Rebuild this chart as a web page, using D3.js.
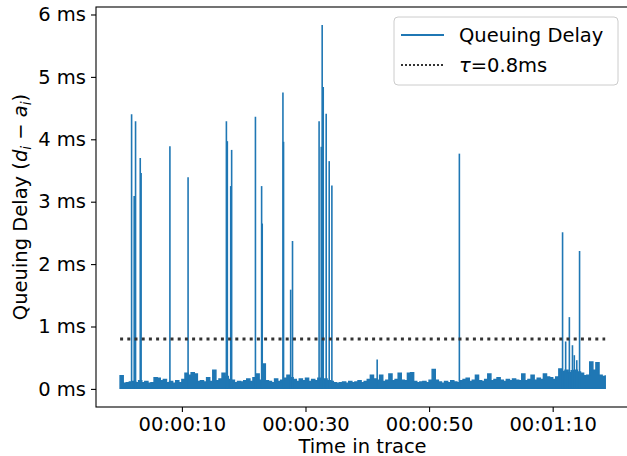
<!DOCTYPE html>
<html>
<head>
<meta charset="utf-8">
<script src="https://cdn.jsdelivr.net/npm/d3@7"></script>
<style>
  body { margin: 0; background: #fff; }
  svg { display: block; font-family: "DejaVu Sans", sans-serif; }
</style>
</head>
<body>
<svg id="chart"></svg>
<script>
const width = 627;
const height = 456;

// noise band: peak queuing delay (ms) per 0.5 s window, starting at t = 0 s
const sampleStep = 0.5;
const bandFloor = 0.01;
const bandTop = [
  0.21, 0.09, 0.10, 0.11, 0.12, 0.10, 0.13, 0.10, 0.12, 0.09,
  0.10, 0.18, 0.17, 0.13, 0.15, 0.10, 0.12, 0.09, 0.13, 0.10,
  0.15, 0.25, 0.22, 0.26, 0.24, 0.12, 0.13, 0.11, 0.18, 0.12,
  0.30, 0.13, 0.16, 0.25, 0.20, 0.15, 0.14, 0.10, 0.12, 0.11,
  0.13, 0.16, 0.12, 0.18, 0.24, 0.14, 0.40, 0.13, 0.12, 0.10,
  0.16, 0.12, 0.14, 0.17, 0.22, 0.18, 0.15, 0.12, 0.16, 0.13,
  0.17, 0.12, 0.15, 0.13, 0.17, 0.14, 0.16, 0.13, 0.12, 0.10,
  0.09, 0.10, 0.11, 0.09, 0.12, 0.10, 0.11, 0.13, 0.10, 0.12,
  0.15, 0.22, 0.16, 0.14, 0.22, 0.12, 0.14, 0.24, 0.13, 0.15,
  0.25, 0.14, 0.13, 0.25, 0.26, 0.12, 0.10, 0.11, 0.12, 0.10,
  0.14, 0.31, 0.14, 0.11, 0.09, 0.12, 0.10, 0.13, 0.11, 0.10,
  0.13, 0.15, 0.17, 0.12, 0.14, 0.22, 0.13, 0.12, 0.15, 0.24,
  0.13, 0.15, 0.18, 0.14, 0.12, 0.15, 0.13, 0.16, 0.14, 0.13,
  0.24, 0.13, 0.15, 0.22, 0.14, 0.17, 0.15, 0.24, 0.19, 0.18,
  0.15, 0.19, 0.32, 0.28, 0.30, 0.26, 0.29, 0.30, 0.27, 0.25,
  0.21, 0.22, 0.43, 0.30, 0.42, 0.22, 0.20, 0.22
];

// isolated delay spikes
const spikeTimes = [1.86, 2.28, 2.50, 3.26, 3.40, 8.06, 11.0, 17.2, 17.35, 17.9,
                    18.05, 21.9, 22.9, 23.0, 26.35, 26.45, 27.6, 27.9, 32.2, 32.55,
                    32.7, 32.87, 33.35, 33.84, 34.27, 41.6, 54.9, 71.6, 72.1, 72.7,
                    73.2, 73.5, 73.9, 74.35];
const spikeValues = [4.40, 3.09, 4.29, 3.70, 3.46, 3.89, 3.39, 4.29, 3.97, 3.25,
                     3.83, 4.36, 3.25, 2.65, 4.75, 3.96, 1.59, 2.37, 4.29, 3.88,
                     5.83, 4.84, 4.41, 3.65, 3.26, 0.47, 3.77, 2.51, 0.76, 1.15,
                     0.70, 0.54, 0.46, 2.21];

const tau = 0.8;
const traceEnd = 78.5;
const timeTicks = [10, 30, 50, 70];
const timeTickLabels = ["00:00:10", "00:00:30", "00:00:50", "00:01:10"];
const delayTicks = [0, 1, 2, 3, 4, 5, 6];

const blue = "#1f77b4";
const margin = {top: 7, right: -2, bottom: 49, left: 96};
const plotW = width - margin.left - margin.right;
const plotH = height - margin.top - margin.bottom;

const svg = d3.select("#chart")
              .attr("width", width)
              .attr("height", height);

const g = svg.append("g")
             .attr("transform", "translate(" + margin.left + "," + margin.top + ")");

const x = d3.scaleLinear().domain([-3.9, 82.35]).range([0, plotW]);
const y = d3.scaleLinear().domain([-0.29, 6.12]).range([plotH, 0]);

g.append("clipPath").attr("id", "clip")
 .append("rect").attr("width", plotW).attr("height", plotH);

const plot = g.append("g").attr("clip-path", "url(#clip)");

const bandData = bandTop.map((v, i) => ({t: i * sampleStep, v: v}));

const area = d3.area()
               .curve(d3.curveStepAfter)
               .x(d => x(d.t))
               .y0(y(bandFloor))
               .y1(d => y(d.v));

plot.append("path")
    .datum(bandData)
    .attr("d", area)
    .attr("fill", blue)
    .attr("stroke", blue)
    .attr("stroke-width", 1.5);

const line = d3.line().x(d => x(d[0])).y(d => y(d[1]));

plot.selectAll(".spike")
    .data(spikeTimes)
    .enter()
    .append("path")
    .attr("class", "spike")
    .attr("d", (t, i) => line([[t, bandFloor], [t, spikeValues[i]]]))
    .attr("stroke", blue)
    .attr("stroke-width", 1.6)
    .attr("fill", "none");

// threshold
plot.append("path")
    .attr("d", line([[0, tau], [traceEnd, tau]]))
    .attr("stroke", "#333")
    .attr("stroke-width", 3)
    .attr("stroke-dasharray", "3,4.2")
    .attr("fill", "none");

// axes
const xAxis = g.append("g")
               .attr("transform", "translate(0," + plotH + ")")
               .call(d3.axisBottom(x)
                       .tickValues(timeTicks)
                       .tickFormat((d, i) => timeTickLabels[i])
                       .tickSize(5)
                       .tickPadding(4)
                       .tickSizeOuter(0));

const yAxis = g.append("g")
               .call(d3.axisLeft(y)
                       .tickValues(delayTicks)
                       .tickFormat(d => d + " ms")
                       .tickSize(5)
                       .tickPadding(5)
                       .tickSizeOuter(0));

[xAxis, yAxis].forEach(a => {
  a.selectAll("text").style("font-size", "19.5px").attr("fill", "#000").style("font-family", "DejaVu Sans");
  a.selectAll("line").attr("stroke", "#000").attr("stroke-width", 1.1);
  a.select(".domain").remove();
});
xAxis.selectAll("text").attr("dy", "0.76em");

// frame
g.append("rect")
 .attr("width", plotW).attr("height", plotH)
 .attr("fill", "none").attr("stroke", "#000").attr("stroke-width", 1.1);

// axis labels (the source figure crops this label at the bottom edge)
svg.append("text")
   .attr("x", margin.left + plotW / 2)
   .attr("y", 453)
   .attr("text-anchor", "middle")
   .style("font-size", "19.5px")
   .text("Time in trace");

const yl = svg.append("text")
              .attr("transform", "translate(27," + (margin.top + plotH / 2) + ") rotate(-90)")
              .attr("text-anchor", "middle")
              .style("font-size", "19.5px");
yl.append("tspan").text("Queuing Delay (");
yl.append("tspan").attr("font-style", "italic").text("d");
yl.append("tspan").attr("font-style", "italic").attr("font-size", "13.5px").attr("dy", 4).text("i");
yl.append("tspan").attr("dy", -4).text(" \u2212 ");
yl.append("tspan").attr("font-style", "italic").text("a");
yl.append("tspan").attr("font-style", "italic").attr("font-size", "13.5px").attr("dy", 4).text("i");
yl.append("tspan").attr("dy", -4).text(")");

// legend
const legend = svg.append("g");
legend.append("rect")
      .attr("x", 394).attr("y", 17).attr("width", 224).attr("height", 68)
      .attr("rx", 4)
      .attr("fill", "#fff").attr("fill-opacity", 0.8)
      .attr("stroke", "#cccccc").attr("stroke-width", 1);
legend.append("line")
      .attr("x1", 401).attr("x2", 444).attr("y1", 35).attr("y2", 35)
      .attr("stroke", blue).attr("stroke-width", 2);
legend.append("line")
      .attr("x1", 401).attr("x2", 444).attr("y1", 65).attr("y2", 65)
      .attr("stroke", "#333").attr("stroke-width", 2)
      .attr("stroke-dasharray", "2,2");
legend.append("text")
      .attr("x", 459).attr("y", 42)
      .style("font-size", "19.5px")
      .text("Queuing Delay");
const lt = legend.append("text")
                 .attr("x", 459).attr("y", 72)
                 .style("font-size", "19.5px");
lt.append("tspan").attr("font-style", "italic").text("\u03c4");
lt.append("tspan").text("=0.8ms");
</script>
</body>
</html>
